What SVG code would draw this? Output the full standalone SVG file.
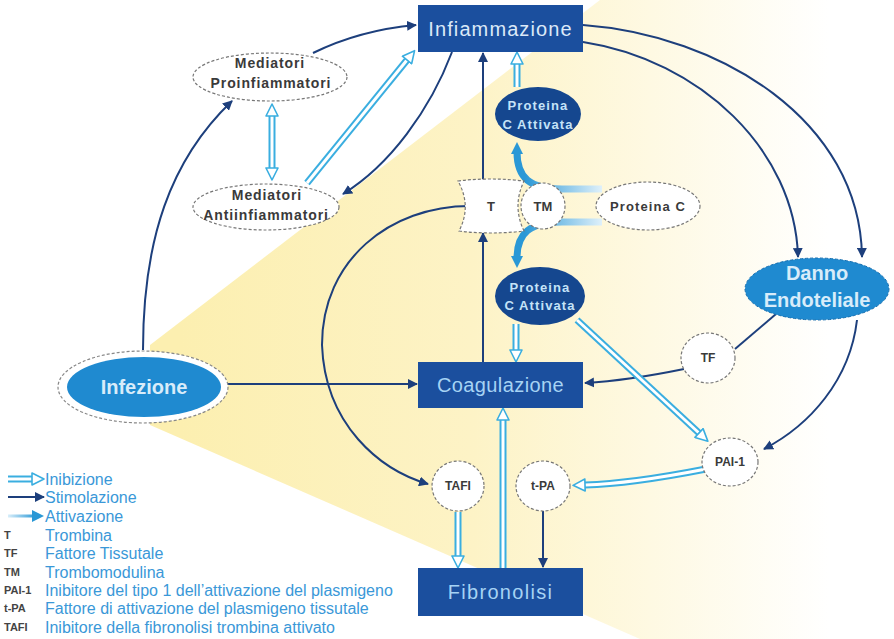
<svg xmlns="http://www.w3.org/2000/svg" width="894" height="639" viewBox="0 0 894 639">
<defs>
<linearGradient id="bgYellow" gradientUnits="userSpaceOnUse" x1="180" y1="0" x2="830" y2="0">
<stop offset="0" stop-color="#fcefb0"/>
<stop offset="0.45" stop-color="#fdf3c6"/>
<stop offset="1" stop-color="#ffffff"/>
</linearGradient>
<linearGradient id="actBand" gradientUnits="userSpaceOnUse" x1="605" y1="0" x2="525" y2="0">
<stop offset="0" stop-color="#e6f4fc"/>
<stop offset="1" stop-color="#2a98d6"/>
</linearGradient>
<linearGradient id="actLeg" gradientUnits="userSpaceOnUse" x1="8" y1="0" x2="36" y2="0">
<stop offset="0" stop-color="#d8eefa"/>
<stop offset="1" stop-color="#2a98d6"/>
</linearGradient>
<marker id="stim" markerUnits="userSpaceOnUse" viewBox="0 0 10 10" markerWidth="10" markerHeight="10" refX="9" refY="5" orient="auto">
<path d="M0,0 L10,5 L0,10 Z" fill="#1d3f7c"/>
</marker>
<marker id="act" markerUnits="userSpaceOnUse" viewBox="0 0 12 12" markerWidth="12" markerHeight="12" refX="2" refY="6" orient="auto">
<path d="M0,0 L12,6 L0,12 Z" fill="#2a98d6"/>
</marker>
<marker id="hol" markerUnits="userSpaceOnUse" viewBox="0 0 14 14" markerWidth="14" markerHeight="14" refX="1" refY="7" orient="auto-start-reverse">
<path d="M1,1 L13,7 L1,13 Z" fill="#ffffff" stroke="#3aaee0" stroke-width="1.6" stroke-linejoin="round"/>
</marker>
</defs>
<style>
.stim{fill:none;stroke:#1d3f7c;stroke-width:2;marker-end:url(#stim)}
.line{fill:none;stroke:#1d3f7c;stroke-width:2}
.holO{fill:none;stroke:#3aaee0;stroke-width:7}
.holI{fill:none;stroke:#ffffff;stroke-width:3;marker-end:url(#hol)}
.act{fill:none;stroke:url(#actBand);stroke-width:7;marker-end:url(#act)}
.box{fill:#1b4f9e}
.pale{fill:#ffffff;stroke:#777777;stroke-width:1.2;stroke-dasharray:3 2}
.lbl{font-family:"Liberation Sans",Arial,sans-serif;font-weight:bold;fill:#3a3a3a;text-anchor:middle;dominant-baseline:central}
.big{font-family:"Liberation Sans",Arial,sans-serif;font-size:20px;text-anchor:middle;dominant-baseline:central}
.pca{fill:#15478f}
.pcat{font-family:"Liberation Sans",Arial,sans-serif;font-weight:bold;font-size:13px;letter-spacing:1.1px;fill:#c4e3f8;text-anchor:middle;dominant-baseline:central}
.leg{font-family:"Liberation Sans",Arial,sans-serif;font-size:16px;fill:#3a98d8;dominant-baseline:central}
.abbr{font-family:"Liberation Sans",Arial,sans-serif;font-weight:bold;font-size:11px;fill:#444444;dominant-baseline:central}
</style>
<rect width="894" height="639" fill="#ffffff"/>
<polygon points="150,345 600,0 894,0 894,639 640,639 150,425" fill="url(#bgYellow)"/>

<g id="connectors">
<path class="stim" d="M143,350 C143,240 170,160 232,101"/>
<path class="stim" d="M313,53 Q360,30 416,25"/>
<path class="stim" d="M452,52 C430,110 390,165 343,194"/>
<path class="stim" d="M483,180 L483,53"/>
<path class="stim" d="M483,362 L483,233"/>
<path class="stim" d="M228,384 L417,384"/>
<path class="stim" d="M470,206 C390,206 322,260 322,345 C325,425 380,470 428,484"/>
<path class="stim" d="M583,25 C720,35 860,120 862,257"/>
<path class="stim" d="M583,42 C700,60 795,150 798,257"/>
<path class="line" d="M776,314 L735,349"/>
<path class="stim" d="M684,369 C650,376 620,381 585,383"/>
<path class="stim" d="M857,320 C850,380 810,425 764,449"/>
<path class="stim" d="M543,511 L543,567"/>
<path class="act" d="M602,189 L562,189 C530,189 517,178 517,152"/>
<path class="act" d="M602,222 L562,222 C530,222 517,233 517,258"/>
<path class="holO" d="M307,183 L407,60"/><path class="holI" d="M307,183 L407,60"/>
<path class="holO" d="M272,116 L272,168"/><path class="holI" d="M272,116 L272,168" marker-start="url(#hol)"/>
<path class="holO" d="M517,87 L517,64"/><path class="holI" d="M517,87 L517,64"/>
<path class="holO" d="M516,324 L516,350"/><path class="holI" d="M516,324 L516,350"/>
<path class="holO" d="M577,320 L699,433"/><path class="holI" d="M577,320 L699,433"/>
<path class="holO" d="M706,469 C660,478 620,484 585,485"/><path class="holI" d="M706,469 C660,478 620,484 585,485"/>
<path class="holO" d="M458,512 L458,556"/><path class="holI" d="M458,512 L458,556"/>
<path class="holO" d="M503,568 L503,420"/><path class="holI" d="M503,568 L503,420"/>
</g>

<g id="infiammazione"><rect class="box" x="418" y="5" width="165" height="47"/><text class="big" x="500.5" y="29" fill="#dce9f8" letter-spacing="1.1">Infiammazione</text></g>
<g id="coagulazione"><rect class="box" x="418" y="362" width="165" height="46"/><text class="big" x="500.5" y="385" fill="#a6d3f4" letter-spacing="0.4">Coagulazione</text></g>
<g id="fibronolisi"><rect class="box" x="418" y="568" width="165" height="48"/><text class="big" x="500.5" y="592" fill="#a6d3f4" letter-spacing="1.3">Fibronolisi</text></g>
<g id="infezione"><ellipse cx="143" cy="387" rx="85" ry="36" fill="#ffffff" stroke="#888888" stroke-width="1.2" stroke-dasharray="3 2"/><ellipse cx="144" cy="387" rx="77" ry="30" fill="#1f8ad0"/><text class="big" x="144" y="387" font-size="23px" font-weight="bold" fill="#d8ecfa">Infezione</text></g>
<g id="danno-endoteliale"><ellipse cx="817" cy="289" rx="72" ry="31" fill="#1f8ad0" stroke="#1a6fae" stroke-width="1" stroke-dasharray="3 2"/><text class="big" x="817" y="273" font-weight="bold" fill="#d8ecfa">Danno</text><text class="big" x="817" y="300" font-weight="bold" fill="#d8ecfa">Endoteliale</text></g>
<g id="mediatori-pro"><ellipse class="pale" cx="270" cy="77" rx="77" ry="24"/><text class="lbl" x="270" y="63" font-size="14" letter-spacing="0.9">Mediatori</text><text class="lbl" x="271" y="83" font-size="14" letter-spacing="0.9">Proinfiammatori</text></g>
<g id="mediatori-anti"><ellipse class="pale" cx="266" cy="207" rx="73" ry="23"/><text class="lbl" x="267" y="195" font-size="14" letter-spacing="0.9">Mediatori</text><text class="lbl" x="266" y="215" font-size="14" letter-spacing="0.9">Antiinfiammatori</text></g>
<g id="trombina"><path class="pale" d="M458,181 Q490,177 524,181 Q512,206 524,231 Q490,235 459,231 Q472,206 458,181 Z"/><text class="lbl" x="491" y="206" font-size="13">T</text></g>
<g id="trombomodulina"><ellipse class="pale" cx="543" cy="206" rx="22" ry="23"/><text class="lbl" x="543" y="206" font-size="13">TM</text></g>
<g id="proteina-c"><ellipse class="pale" cx="648" cy="206" rx="52" ry="24"/><text class="lbl" x="648" y="206" font-size="13" letter-spacing="1.1">Proteina C</text></g>
<g id="pca-top"><ellipse class="pca" cx="538" cy="114" rx="43" ry="27"/><text class="pcat" x="538" y="105">Proteina</text><text class="pcat" x="538" y="124">C Attivata</text></g>
<g id="pca-bottom"><ellipse class="pca" cx="540" cy="296" rx="45" ry="29"/><text class="pcat" x="540" y="287">Proteina</text><text class="pcat" x="540" y="305">C Attivata</text></g>
<g id="tf"><ellipse class="pale" cx="708" cy="358" rx="27" ry="25"/><text class="lbl" x="708" y="358" font-size="12">TF</text></g>
<g id="pai-1"><ellipse class="pale" cx="730" cy="462" rx="28" ry="24"/><text class="lbl" x="730" y="462" font-size="12">PAI-1</text></g>
<g id="tafi"><ellipse class="pale" cx="458" cy="486" rx="26" ry="25"/><text class="lbl" x="458" y="486" font-size="12">TAFI</text></g>
<g id="t-pa"><ellipse class="pale" cx="543" cy="486" rx="27" ry="25"/><text class="lbl" x="543" y="486" font-size="12">t-PA</text></g>

<g id="legend">
<path class="holO" d="M8,479 L32,479"/><path class="holI" d="M8,479 L32,479"/>
<path class="stim" d="M8,497 L44,497"/>
<path d="M8,516 L34,516" fill="none" stroke="url(#actLeg)" stroke-width="3" marker-end="url(#act)"/>
<text class="leg" x="45" y="479">Inibizione</text>
<text class="leg" x="45" y="497">Stimolazione</text>
<text class="leg" x="45" y="516">Attivazione</text>
<text class="abbr" x="4" y="535">T</text><text class="leg" x="45" y="535">Trombina</text>
<text class="abbr" x="4" y="553">TF</text><text class="leg" x="45" y="553">Fattore Tissutale</text>
<text class="abbr" x="4" y="572">TM</text><text class="leg" x="45" y="572">Trombomodulina</text>
<text class="abbr" x="4" y="590">PAI-1</text><text class="leg" x="45" y="590">Inibitore del tipo 1 dell’attivazione del plasmigeno</text>
<text class="abbr" x="4" y="608">t-PA</text><text class="leg" x="45" y="608">Fattore di attivazione del plasmigeno tissutale</text>
<text class="abbr" x="4" y="627">TAFI</text><text class="leg" x="45" y="627">Inibitore della fibronolisi trombina attivato</text>
</g>
</svg>
